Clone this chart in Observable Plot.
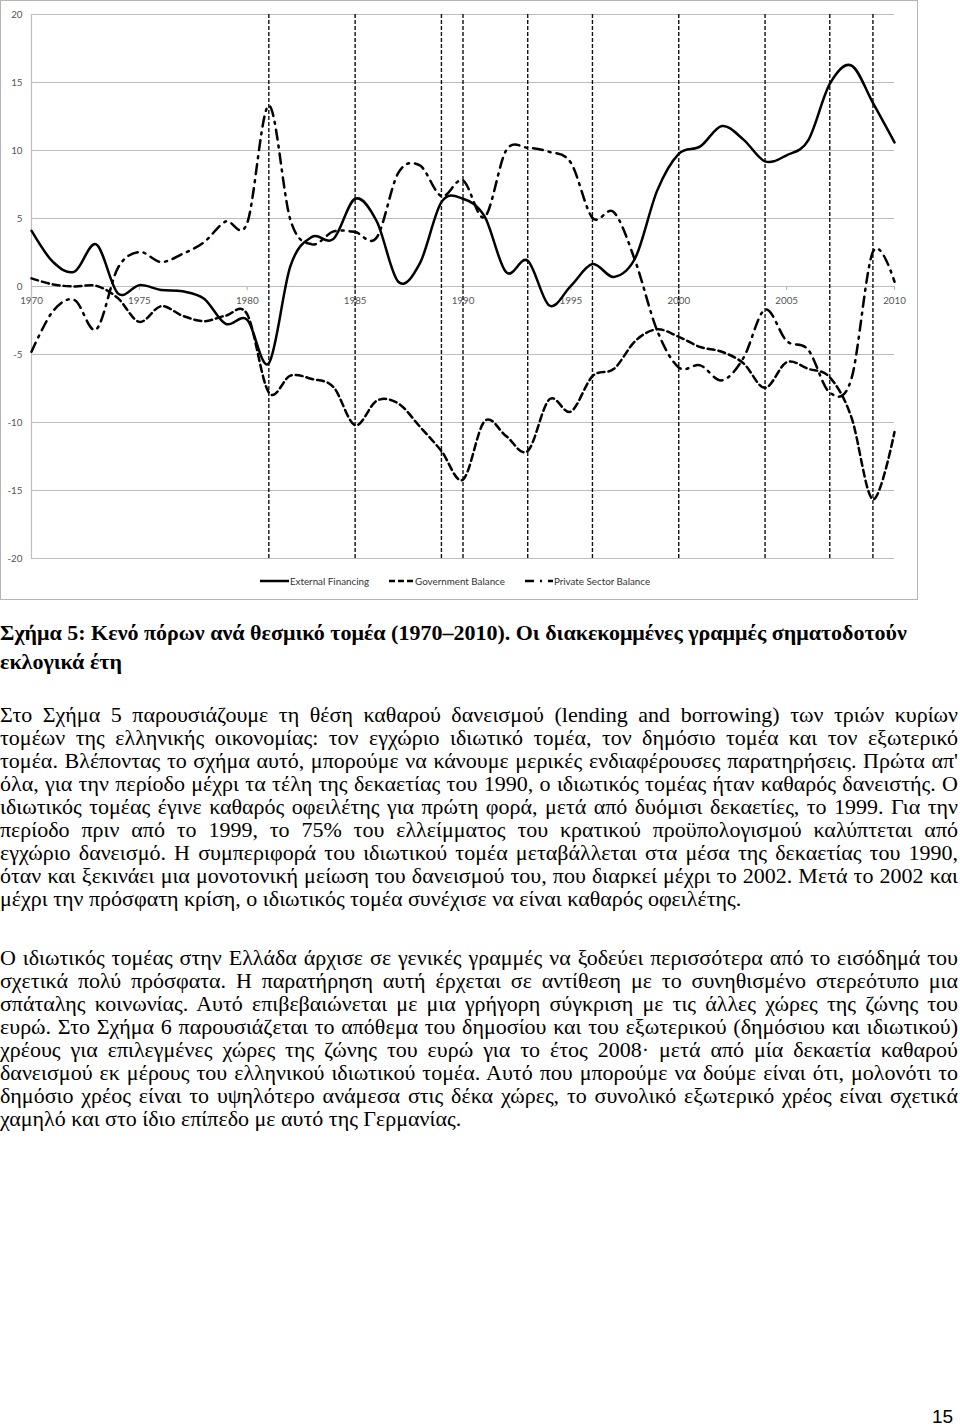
<!DOCTYPE html>
<html>
<head>
<meta charset="utf-8">
<script src="https://cdn.jsdelivr.net/npm/d3@7"></script>
<script src="https://cdn.jsdelivr.net/npm/@observablehq/plot@0.6"></script>
<style>
  html, body { margin: 0; padding: 0; background: #fff; }
  body { width: 960px; height: 1427px; position: relative; overflow: hidden; }
  #frame { position: absolute; left: 0; top: 0; width: 916px; height: 598px; border: 1px solid #b4b4b4; }
  #chart { position: absolute; left: 0; top: 0; }
  #legend { position: absolute; left: -4px; top: 574px; width: 916px; display: flex; justify-content: center; align-items: center;
            font-family: Lato, "Liberation Sans", sans-serif; font-size: 9.8px; color: #333; }
  #legend .item { display: flex; align-items: center; margin: 0 10px; }
  #legend svg { display: block; margin-right: 1px; }
  .txt { position: absolute; left: 0; width: 958px; font-family: "Liberation Serif", "Times New Roman", serif; color: #000; }
  #caption { top: 618px; font-size: 22px; line-height: 29px; font-weight: bold; }
  .para { font-size: 22px; line-height: 23px; }
  #p1 { top: 703px; }
  #p2 { top: 946px; }
  .ln { white-space: nowrap; height: 23px; }
  #caption .ln { height: 29px; }
  .ln span { display: inline-block; transform-origin: 0 50%; }
  #pagenum { position: absolute; left: 932px; top: 1406px; font-family: "Liberation Sans", sans-serif; font-size: 19px; }
</style>
</head>
<body>
<div id="frame"><div id="chart"></div><div id="legend"></div></div>
<div id="caption" class="txt"></div>
<div id="p1" class="txt para"></div>
<div id="p2" class="txt para"></div>
<div id="pagenum">15</div>
<script>
const years = d3.range(1970, 2011);
const externalFinancing = [4.1, 1.8, 1.1, 3.1, -0.5, 0.1, -0.25, -0.35, -0.9, -2.75, -2.45, -5.65, 1.5, 3.65, 3.5, 6.45, 4.8, 0.35, 1.7, 6.2, 6.45, 5.15, 1.05, 1.9, -1.4, 0.05, 1.65, 0.7, 2.15, 7.05, 9.75, 10.3, 11.8, 10.8, 9.2, 9.65, 10.75, 14.9, 16.25, 13.5, 10.6];
const governmentBalance = [0.6, 0.15, 0, 0.05, -0.85, -2.6, -1.45, -2.15, -2.55, -2.15, -2.05, -7.8, -6.55, -6.8, -7.4, -10.2, -8.4, -8.6, -10.3, -12.1, -14.2, -9.9, -11.0, -12.1, -8.3, -9.2, -6.6, -6.05, -3.98, -3.15, -3.7, -4.45, -4.8, -5.65, -7.45, -5.57, -6.05, -6.68, -9.6, -15.65, -10.7];
const privateSectorBalance = [-4.8, -1.8, -1.0, -3.15, 1.35, 2.53, 1.8, 2.4, 3.26, 4.78, 4.68, 13.3, 4.9, 3.1, 4.05, 4.0, 3.6, 8.35, 8.9, 6.65, 7.8, 5.1, 10.0, 10.2, 9.9, 9.1, 5.05, 5.45, 1.8, -3.24, -5.95, -5.8, -6.9, -5.25, -1.7, -4.0, -4.65, -7.8, -6.8, 2.55, 0.35];
const electionYears = [1981, 1985, 1989, 1990, 1993, 1996, 2000, 2004, 2007, 2009];
const yTicks = [20, 15, 10, 5, 0, -5, -10, -15, -20];
const xTicks = [1970, 1975, 1980, 1985, 1990, 1995, 2000, 2005, 2010];
const seriesNames = ["External Financing", "Government Balance", "Private Sector Balance"];
const dashes = [null, "7,4", "10,6,2,6"];

const seriesValues = [externalFinancing, governmentBalance, privateSectorBalance];
const rows = seriesNames.map((name, i) => years.map((year, j) => ({ year, value: seriesValues[i][j], name })));

const gridColor = "#bdbdbd";
const labelColor = "#555";
const chart = Plot.plot({
  width: 916, height: 570,
  marginLeft: 30, marginRight: 23, marginTop: 13, marginBottom: 13,
  style: { fontFamily: "Lato, 'Liberation Sans', sans-serif", fontSize: "9.8px", background: "white", overflow: "visible" },
  x: { domain: [1970, 2010], axis: null },
  y: { domain: [-20, 20], axis: null },
  marks: [
    Plot.ruleY(yTicks, { stroke: gridColor, strokeWidth: 1.2 }),
    Plot.ruleX([1970], { stroke: gridColor, strokeWidth: 1.2 }),
    Plot.ruleX(xTicks, { y1: 0, y2: -0.3, stroke: gridColor, strokeWidth: 1.2 }),
    Plot.text(yTicks, { x: 1970, y: d => d, dx: -9, textAnchor: "end", text: d => String(d), fill: labelColor }),
    Plot.text(xTicks, { x: d => d, y: 0, dy: 14, text: d => String(d), fill: labelColor }),
    Plot.ruleX(electionYears, { stroke: "#111", strokeWidth: 1.4, strokeDasharray: "4,2" }),
    ...rows.map((r, i) => Plot.line(r, { x: "year", y: "value", curve: "cardinal", stroke: "#000", strokeWidth: 2.5, strokeDasharray: dashes[i] }))
  ]
});
document.getElementById("chart").appendChild(chart);

// legend
const legend = document.getElementById("legend");
const swatchW = [29, 25, 28];
seriesNames.forEach((name, i) => {
  const item = document.createElement("div");
  item.className = "item";
  const w = swatchW[i];
  item.innerHTML = `<svg width="${w}" height="8"><line x1="0" x2="${w}" y1="4" y2="4" stroke="#000" stroke-width="2.5" ${dashes[i] ? `stroke-dasharray="${i === 2 ? "9,6,2,6" : "6,3"}"` : ""}/></svg><span>${name}</span>`;
  legend.appendChild(item);
});

const captionLines = [
  "Σχήμα 5: Κενό πόρων ανά θεσμικό τομέα (1970–2010). Οι διακεκομμένες γραμμές σηματοδοτούν",
  "εκλογικά έτη"
];
const para1 = [
  "Στο Σχήμα 5 παρουσιάζουμε τη θέση καθαρού δανεισμού (lending and borrowing) των τριών κυρίων",
  "τομέων της ελληνικής οικονομίας: τον εγχώριο ιδιωτικό τομέα, τον δημόσιο τομέα και τον εξωτερικό",
  "τομέα. Βλέποντας το σχήμα αυτό, μπορούμε να κάνουμε μερικές ενδιαφέρουσες παρατηρήσεις. Πρώτα απ'",
  "όλα, για την περίοδο μέχρι τα τέλη της δεκαετίας του 1990, ο ιδιωτικός τομέας ήταν καθαρός δανειστής. Ο",
  "ιδιωτικός τομέας έγινε καθαρός οφειλέτης για πρώτη φορά, μετά από δυόμισι δεκαετίες, το 1999. Για την",
  "περίοδο πριν από το 1999, το 75% του ελλείμματος του κρατικού προϋπολογισμού καλύπτεται από",
  "εγχώριο δανεισμό. Η συμπεριφορά του ιδιωτικού τομέα μεταβάλλεται στα μέσα της δεκαετίας του 1990,",
  "όταν και ξεκινάει μια μονοτονική μείωση του δανεισμού του, που διαρκεί μέχρι το 2002. Μετά το 2002 και",
  "μέχρι την πρόσφατη κρίση, ο ιδιωτικός τομέα συνέχισε να είναι καθαρός οφειλέτης."
];
const para2 = [
  "Ο ιδιωτικός τομέας στην Ελλάδα άρχισε σε γενικές γραμμές να ξοδεύει περισσότερα από το εισόδημά του",
  "σχετικά πολύ πρόσφατα. Η παρατήρηση αυτή έρχεται σε αντίθεση με το συνηθισμένο στερεότυπο μια",
  "σπάταλης κοινωνίας. Αυτό επιβεβαιώνεται με μια γρήγορη σύγκριση με τις άλλες χώρες της ζώνης του",
  "ευρώ. Στο Σχήμα 6 παρουσιάζεται το απόθεμα του δημοσίου και του εξωτερικού (δημόσιου και ιδιωτικού)",
  "χρέους για επιλεγμένες χώρες της ζώνης του ευρώ για το έτος 2008· μετά από μία δεκαετία καθαρού",
  "δανεισμού εκ μέρους του ελληνικού ιδιωτικού τομέα. Αυτό που μπορούμε να δούμε είναι ότι, μολονότι το",
  "δημόσιο χρέος είναι το υψηλότερο ανάμεσα στις δέκα χώρες, το συνολικό εξωτερικό χρέος είναι σχετικά",
  "χαμηλό και στο ίδιο επίπεδο με αυτό της Γερμανίας."
];

function fill(id, lines, justify, target) {
  const box = document.getElementById(id);
  lines.forEach((t, i) => {
    const ln = document.createElement("div");
    ln.className = "ln";
    const sp = document.createElement("span");
    sp.textContent = t;
    ln.appendChild(sp);
    box.appendChild(ln);
    const w = sp.getBoundingClientRect().width;
    const last = i === lines.length - 1;
    if (w > target) {
      sp.style.transform = `scaleX(${target / w})`;
    } else if (justify && !last) {
      const n = (t.match(/ /g) || []).length;
      if (n) sp.style.wordSpacing = ((target - w) / n) + "px";
    }
  });
}
fill("caption", captionLines, false, 958);
fill("p1", para1, true, 958);
fill("p2", para2, true, 958);
</script>
</body>
</html>
